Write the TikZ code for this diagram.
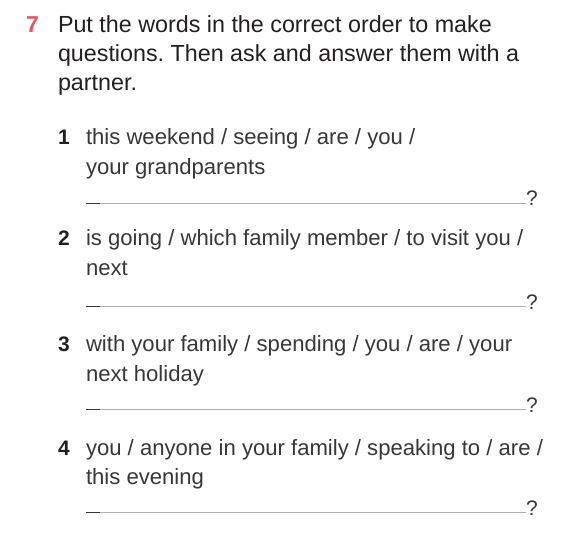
\documentclass[tikz,border=0pt]{standalone}
\usepackage{fontspec}
\setmainfont{Liberation Sans}
\frenchspacing
\definecolor{exred}{RGB}{232,84,94}
\definecolor{headtxt}{RGB}{35,31,32}
\definecolor{itemtxt}{RGB}{55,55,55}
\definecolor{ansline}{RGB}{175,175,175}
\begin{document}
\begin{tikzpicture}[x=1pt,y=-1pt,
  every node/.style={inner sep=0pt,outer sep=0pt,anchor=base west},
  headfont/.style={font=\fontsize{23.3}{29}\selectfont,text=headtxt},
  exnum/.style={font=\fontsize{23}{29}\selectfont\bfseries,text=exred},
  itemnum/.style={font=\fontsize{21}{29}\selectfont\bfseries,text=headtxt},
  itemfont/.style={font=\fontsize{22.1}{29}\selectfont,text=itemtxt},
  qmark/.style={font=\fontsize{21}{29}\selectfont,text=itemtxt},
  answer/.style={draw=ansline,line width=0.9pt},
  answerstart/.style={draw=itemtxt,line width=0.9pt}]
\useasboundingbox (0,0) rectangle (565,540);
% heading
\node[exnum] (n7) at (26,33) {7};
\node[headfont] (h1) at (58,33) {Put the words in the correct order to make};
\node[headfont] (h2) at (58,62) {questions. Then ask and answer them with a};
\node[headfont] (h3) at (58,91) {partner.};
% item 1
\node[itemnum] (n1) at (58,145) {1};
\node[itemfont] (t1a) at (86,145) {this weekend / seeing / are / you /};
\node[itemfont] (t1b) at (86,175) {your grandparents};
\coordinate (a1) at (86,203);
\coordinate (b1) at (100,203);
\node[qmark] (q1) at (526,206) {?};
\draw[answer] (a1) -- (q1.base west |- a1);
\draw[answerstart] (a1) -- (b1);
% item 2
\node[itemnum] (n2) at (58,246) {2};
\node[itemfont] (t2a) at (86,246) {is going / which family member / to visit you /};
\node[itemfont] (t2b) at (86,276) {next};
\coordinate (a2) at (86,306);
\coordinate (b2) at (100,306);
\node[qmark] (q2) at (526,309) {?};
\draw[answer] (a2) -- (q2.base west |- a2);
\draw[answerstart] (a2) -- (b2);
% item 3
\node[itemnum] (n3) at (58,351) {3};
\node[itemfont] (t3a) at (86,351) {with your family / spending / you / are / your};
\node[itemfont] (t3b) at (86,381) {next holiday};
\coordinate (a3) at (86,409);
\coordinate (b3) at (100,409);
\node[qmark] (q3) at (526,412) {?};
\draw[answer] (a3) -- (q3.base west |- a3);
\draw[answerstart] (a3) -- (b3);
% item 4
\node[itemnum] (n4) at (58,455) {4};
\node[itemfont] (t4a) at (86,455) {you / anyone in your family / speaking to / are /};
\node[itemfont] (t4b) at (86,484) {this evening};
\coordinate (a4) at (86,512);
\coordinate (b4) at (100,512);
\node[qmark] (q4) at (526,515) {?};
\draw[answer] (a4) -- (q4.base west |- a4);
\draw[answerstart] (a4) -- (b4);
\end{tikzpicture}
\end{document}
